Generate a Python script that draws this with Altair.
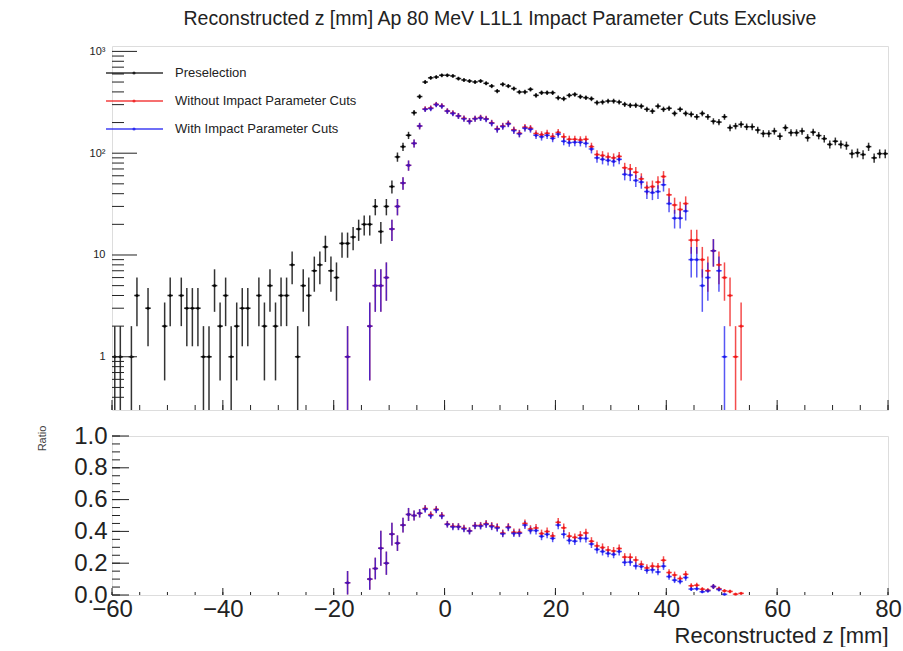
import altair as alt
import numpy as np
import pandas as pd

TITLE = "Reconstructed z [mm] Ap 80 MeV L1L1 Impact Parameter Cuts Exclusive"
series_names = ["Preselection", "Without Impact Parameter Cuts", "With Impact Parameter Cuts"]
series_colors = ["#000000", "#f01010", "#1010f0"]
series_opacity = [0.8, 0.7, 0.7]

# bin centres, 1 mm bins from -60 to 80 mm
bin_centers = [-59.5 + i for i in range(140)]

preselection = [
    1, 1, 0, 1, 4, 0, 3, 0, 0, 2,
    4, 0, 4, 3, 3, 3, 1, 1, 5, 2,
    4, 1, 2, 3, 3, 0, 4, 2, 5, 2,
    4, 4, 8, 1, 5, 4, 7, 8, 12, 7,
    6, 13, 13, 15, 18, 20, 20, 30, 17, 30,
    47, 92, 116, 150, 250, 360, 500, 550, 560, 583,
    583, 574, 541, 524, 512, 501, 512, 486, 457, 408,
    475, 457, 431, 399, 400, 424, 370, 393, 393, 393,
    350, 343, 370, 378, 359, 351, 343, 314, 318, 325,
    325, 318, 302, 295, 295, 290, 270, 259, 290, 270,
    276, 246, 270, 246, 241, 228, 246, 228, 206, 202,
    228, 178, 185, 192, 182, 182, 169, 156, 156, 165,
    147, 178, 159, 159, 165, 142, 161, 149, 139, 122,
    131, 122, 119, 99, 101, 97, 116, 90, 99, 99,
]

without_cuts = [
    0, 0, 0, 0, 0, 0, 0, 0, 0, 0,
    0, 0, 0, 0, 0, 0, 0, 0, 0, 0,
    0, 0, 0, 0, 0, 0, 0, 0, 0, 0,
    0, 0, 0, 0, 0, 0, 0, 0, 0, 0,
    0, 0, 1, 0, 0, 0, 2, 5, 5, 6,
    18, 30, 51, 76, 125, 185, 272, 278, 302, 292,
    260, 248, 233, 220, 207, 219, 224, 218, 199, 174,
    185, 196, 170, 157, 180, 176, 156, 152, 157, 146,
    160, 145, 137, 137, 135, 137, 116, 97, 95, 92,
    90, 93, 72, 70, 65, 56, 46, 47, 52, 59,
    39, 31, 28, 32, 14, 14, 9, 7, 11, 8,
    6, 4, 1, 2, 0, 0, 0, 0, 0, 0,
    0, 0, 0, 0, 0, 0, 0, 0, 0, 0,
    0, 0, 0, 0, 0, 0, 0, 0, 0, 0,
]

with_cuts = [
    0, 0, 0, 0, 0, 0, 0, 0, 0, 0,
    0, 0, 0, 0, 0, 0, 0, 0, 0, 0,
    0, 0, 0, 0, 0, 0, 0, 0, 0, 0,
    0, 0, 0, 0, 0, 0, 0, 0, 0, 0,
    0, 0, 1, 0, 0, 0, 2, 5, 5, 6,
    18, 30, 51, 76, 125, 185, 270, 275, 300, 290,
    259, 246, 232, 218, 206, 218, 222, 216, 197, 172,
    183, 194, 167, 155, 176, 172, 150, 145, 150, 140,
    154, 131, 127, 128, 128, 125, 110, 90, 87, 85,
    83, 87, 62, 61, 54, 52, 42, 41, 42, 49,
    32, 23, 23, 27, 9, 9, 5, 6, 11, 7,
    1, 0, 0, 0, 0, 0, 0, 0, 0, 0,
    0, 0, 0, 0, 0, 0, 0, 0, 0, 0,
    0, 0, 0, 0, 0, 0, 0, 0, 0, 0,
]

# axis tick values
x_major = [-60, -40, -20, 0, 20, 40, 60, 80]
x_minor = list(range(-60, 81, 5))
y_top_major = [1, 10, 100, 1000]
y_top_minor = [0.4, 0.5, 0.6, 0.7, 0.8, 0.9,
               2, 3, 4, 5, 6, 7, 8, 9,
               20, 30, 40, 50, 60, 70, 80, 90,
               200, 300, 400, 500, 600, 700, 800, 900]
y_bot_major = [0.0, 0.2, 0.4, 0.6, 0.8, 1.0]
y_bot_minor = [round(0.05 * i, 2) for i in range(21)]

Y_MIN, Y_MAX = 0.3, 1130
FONT = "Liberation Sans"
W, H_TOP, H_BOT = 776, 364, 159

# ---------- data tables ----------
rows = []
for name, counts in zip(series_names, [preselection, without_cuts, with_cuts]):
    for c, v in zip(bin_centers, counts):
        if v > 0:
            e = np.sqrt(v)
            rows.append(dict(series=name, z=c, zl=c - 0.5, zh=c + 0.5, v=v,
                             lo=max(v - e, Y_MIN), hi=v + e))
top_df = pd.DataFrame(rows)

rrows = []
for name, counts in zip(series_names[1:], [without_cuts, with_cuts]):
    for c, n, b in zip(bin_centers, counts, preselection):
        if n > 0 and b > 0:
            r = n / b
            e = np.sqrt(r * (1 - r) / b)
            rrows.append(dict(series=name, z=c, zl=c - 0.5, zh=c + 0.5, v=r,
                              lo=max(r - e, 0.0), hi=min(r + e, 1.0)))
ratio_df = pd.DataFrame(rrows)

xscale = alt.Scale(domain=[-60, 80], nice=False, zero=False)
color = alt.Color("series:N", scale=alt.Scale(domain=series_names, range=series_colors), legend=None)
opac = alt.Opacity("series:N", scale=alt.Scale(domain=series_names, range=series_opacity), legend=None)


def hist_layers(df, yscale, xaxis, yaxis):
    base = alt.Chart(df)
    vert = base.mark_rule(strokeWidth=1.5).encode(
        x=alt.X("z:Q", scale=xscale, axis=xaxis),
        y=alt.Y("lo:Q", scale=yscale, axis=yaxis),
        y2="hi:Q", color=color, opacity=opac)
    horiz = base.mark_rule(strokeWidth=1.5).encode(
        x=alt.X("zl:Q", scale=xscale, axis=xaxis), x2="zh:Q",
        y=alt.Y("v:Q", scale=yscale, axis=yaxis), color=color, opacity=opac)
    pts = base.mark_point(filled=True, size=10, shape="circle").encode(
        x=alt.X("z:Q", scale=xscale, axis=xaxis),
        y=alt.Y("v:Q", scale=yscale, axis=yaxis), color=color, opacity=opac)
    return [vert, horiz, pts]


def x_ticks(values, length, height, xaxis):
    return alt.Chart(pd.DataFrame({"t": values})).mark_rule(color="#222", strokeWidth=1).encode(
        x=alt.X("t:Q", scale=xscale, axis=xaxis),
        y=alt.value(height), y2=alt.value(height - length))


def y_ticks(values, length, yscale, yaxis):
    return alt.Chart(pd.DataFrame({"t": values})).mark_rule(color="#222", strokeWidth=1).encode(
        y=alt.Y("t:Q", scale=yscale, axis=yaxis),
        x=alt.value(0), x2=alt.value(length))


# ---------- top panel ----------
ytop_scale = alt.Scale(type="log", domain=[Y_MIN, Y_MAX], nice=False)
ytop_axis = alt.Axis(values=y_top_major, title=None, grid=False, ticks=False, domain=False,
                     labelFontSize=11, labelPadding=7, labelColor="#222", labelFont=FONT,
                     labelExpr="datum.value == 1000 ? '10\u00b3' : datum.value == 100 ? '10\u00b2' : datum.value == 10 ? '10' : '1'")
xtop_axis = None

top_layers = hist_layers(top_df, ytop_scale, xtop_axis, ytop_axis)
top_layers += [
    x_ticks(x_minor, 5, H_TOP, xtop_axis),
    x_ticks(x_major, 10, H_TOP, xtop_axis),
    y_ticks(y_top_minor, 12, ytop_scale, ytop_axis),
    y_ticks(y_top_major, 25, ytop_scale, ytop_axis),
]

# legend (drawn inside the frame, top-left)
legend_y = [27, 55, 83]
for name, col, ly in zip(series_names, series_colors, legend_y):
    ldf = pd.DataFrame({"label": [name]})
    top_layers.append(alt.Chart(ldf).mark_rule(color=col, strokeWidth=1.5, opacity=0.8).encode(
        x=alt.value(-6), x2=alt.value(51), y=alt.value(ly)))
    top_layers.append(alt.Chart(ldf).mark_point(filled=True, size=10, color=col).encode(
        x=alt.value(22), y=alt.value(ly)))
    top_layers.append(alt.Chart(ldf).mark_text(align="left", baseline="middle", fontSize=13,
                                               font=FONT, color="#222").encode(
        x=alt.value(63), y=alt.value(ly), text="label:N"))

top = alt.layer(*top_layers).properties(
    width=W, height=H_TOP,
    title=alt.Title(TITLE, fontSize=19.5, fontWeight="normal", font=FONT, color="#222",
                    anchor="middle", offset=16))

# ---------- bottom (ratio) panel ----------
ybot_scale = alt.Scale(domain=[0, 1], nice=False, zero=False)
ybot_axis = alt.Axis(values=y_bot_major, format=".1f", grid=False, ticks=False, domain=False,
                     labelFontSize=24, labelPadding=5, labelColor="#222", labelFont=FONT,
                     labelFlush=False, labelOverlap=False,
                     title="Ratio", titleFontSize=11, titleFontWeight="normal", titleFont=FONT,
                     titleColor="#444", titleAngle=270, titleX=-70, titleY=2,
                     titleAlign="center", titleBaseline="middle")
xbot_axis = alt.Axis(values=x_major, grid=False, ticks=False, domain=False,
                     labelFontSize=24, labelPadding=2, labelColor="#222", labelFont=FONT,
                     labelFlush=False, labelOverlap=False,
                     title="Reconstructed z [mm]", titleFontSize=22, titleFontWeight="normal",
                     titleFont=FONT, titleColor="#222", titleAnchor="end", titlePadding=4)

bot_layers = hist_layers(ratio_df, ybot_scale, xbot_axis, ybot_axis)
bot_layers += [
    x_ticks(x_minor, 3, H_BOT, xbot_axis),
    x_ticks(x_major, 7, H_BOT, xbot_axis),
    y_ticks(y_bot_minor, 8, ybot_scale, ybot_axis),
    y_ticks(y_bot_major, 17, ybot_scale, ybot_axis),
]
bottom = alt.layer(*bot_layers).properties(width=W, height=H_BOT)

chart = alt.vconcat(top, bottom, spacing=11).properties(
    padding={"left": 35, "top": 8, "right": 0, "bottom": 0},
    background="white",
).configure_view(stroke="#222", strokeWidth=1.5).configure(font=FONT)

chart.save("out.html", embed_options={"renderer": "svg", "actions": False})
